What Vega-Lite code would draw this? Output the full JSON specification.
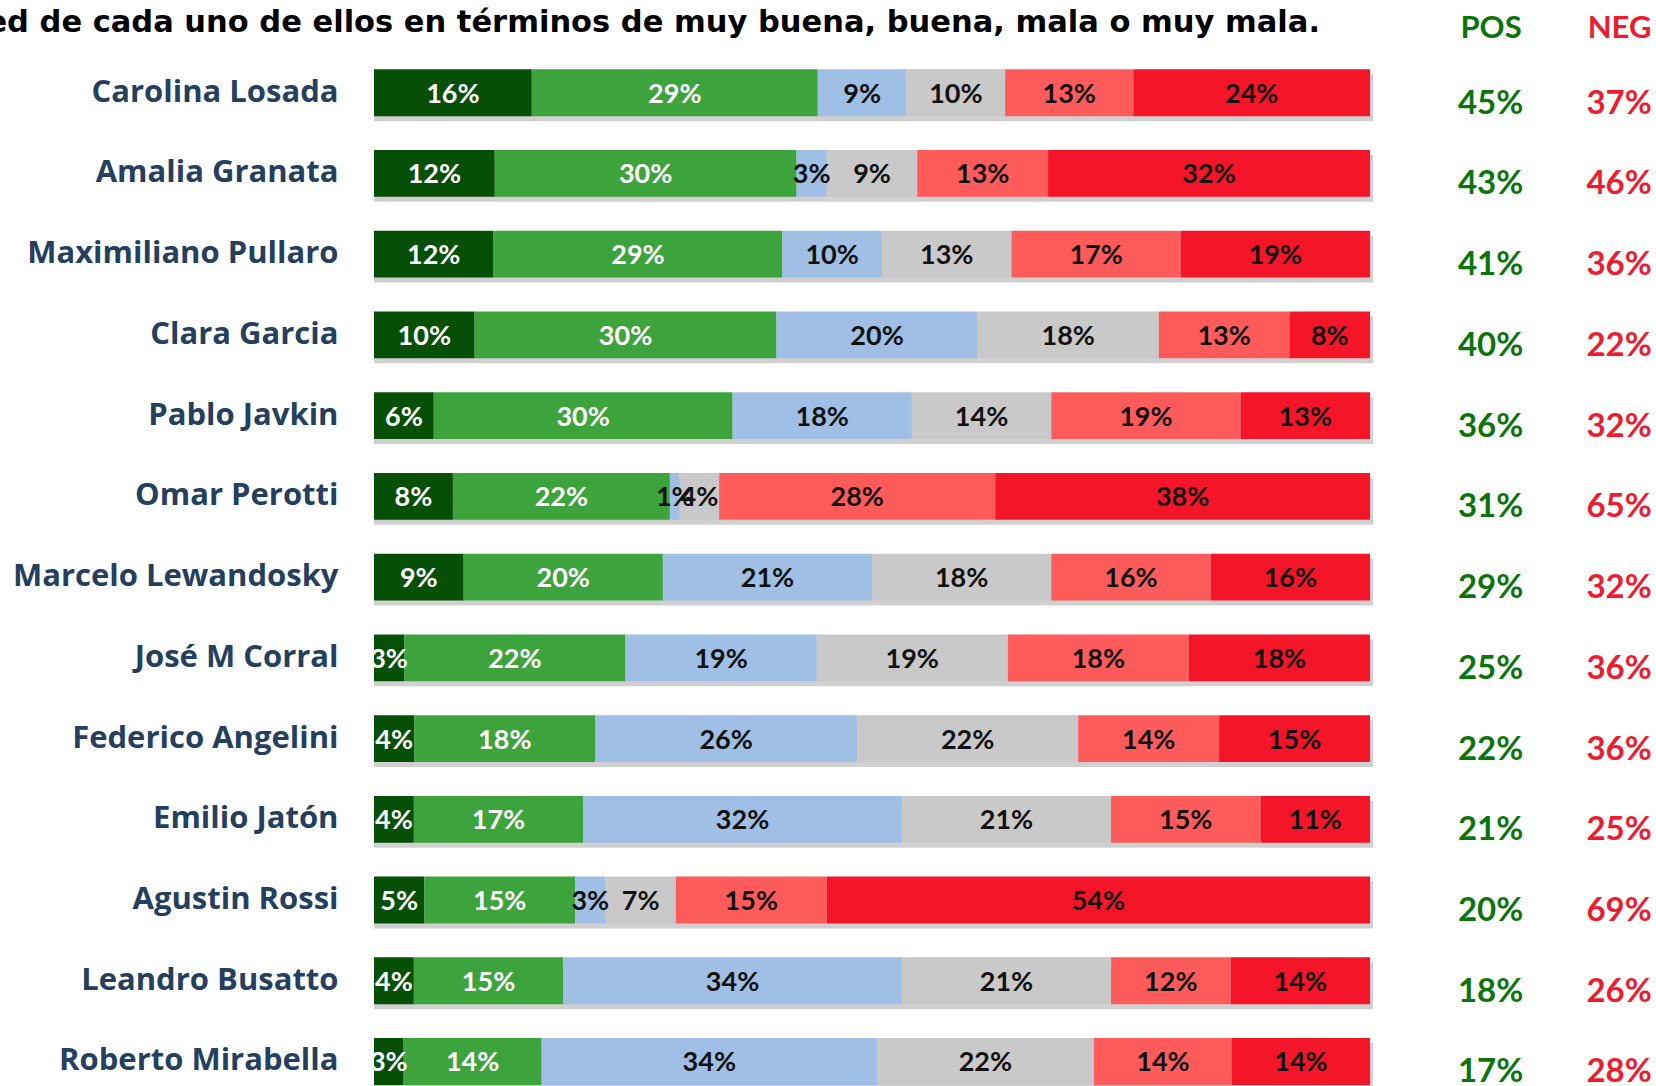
{
  "$schema": "https://vega.github.io/schema/vega-lite/v6.json",
  "width": 1282,
  "height": 1034,
  "autosize": {"type": "none"},
  "padding": {"left": 374, "top": 52, "right": 0, "bottom": 0},
  "background": "white",
  "config": {"view": {"stroke": null}},
  "title": {
    "text": "ed de cada uno de ellos en términos de muy buena, buena, mala o muy mala.",
    "anchor": "end",
    "frame": "group",
    "dx": -336,
    "dy": 54,
    "offset": 4,
    "font": "DejaVu Sans",
    "fontSize": 30.5,
    "fontWeight": "bold",
    "color": "#000000",
    "baseline": "alphabetic"
  },
  "datasets": {
    "seg": [
      {"name": "Carolina Losada", "cat": "Muy buena", "k": 1, "pct": 0.16},
      {"name": "Carolina Losada", "cat": "Buena", "k": 2, "pct": 0.29},
      {"name": "Carolina Losada", "cat": "Regular", "k": 3, "pct": 0.09},
      {"name": "Carolina Losada", "cat": "Ns/Nc", "k": 4, "pct": 0.10},
      {"name": "Carolina Losada", "cat": "Mala", "k": 5, "pct": 0.13},
      {"name": "Carolina Losada", "cat": "Muy mala", "k": 6, "pct": 0.24},
      {"name": "Amalia Granata", "cat": "Muy buena", "k": 1, "pct": 0.12},
      {"name": "Amalia Granata", "cat": "Buena", "k": 2, "pct": 0.30},
      {"name": "Amalia Granata", "cat": "Regular", "k": 3, "pct": 0.03},
      {"name": "Amalia Granata", "cat": "Ns/Nc", "k": 4, "pct": 0.09},
      {"name": "Amalia Granata", "cat": "Mala", "k": 5, "pct": 0.13},
      {"name": "Amalia Granata", "cat": "Muy mala", "k": 6, "pct": 0.32},
      {"name": "Maximiliano Pullaro", "cat": "Muy buena", "k": 1, "pct": 0.12},
      {"name": "Maximiliano Pullaro", "cat": "Buena", "k": 2, "pct": 0.29},
      {"name": "Maximiliano Pullaro", "cat": "Regular", "k": 3, "pct": 0.10},
      {"name": "Maximiliano Pullaro", "cat": "Ns/Nc", "k": 4, "pct": 0.13},
      {"name": "Maximiliano Pullaro", "cat": "Mala", "k": 5, "pct": 0.17},
      {"name": "Maximiliano Pullaro", "cat": "Muy mala", "k": 6, "pct": 0.19},
      {"name": "Clara Garcia", "cat": "Muy buena", "k": 1, "pct": 0.10},
      {"name": "Clara Garcia", "cat": "Buena", "k": 2, "pct": 0.30},
      {"name": "Clara Garcia", "cat": "Regular", "k": 3, "pct": 0.20},
      {"name": "Clara Garcia", "cat": "Ns/Nc", "k": 4, "pct": 0.18},
      {"name": "Clara Garcia", "cat": "Mala", "k": 5, "pct": 0.13},
      {"name": "Clara Garcia", "cat": "Muy mala", "k": 6, "pct": 0.08},
      {"name": "Pablo Javkin", "cat": "Muy buena", "k": 1, "pct": 0.06},
      {"name": "Pablo Javkin", "cat": "Buena", "k": 2, "pct": 0.30},
      {"name": "Pablo Javkin", "cat": "Regular", "k": 3, "pct": 0.18},
      {"name": "Pablo Javkin", "cat": "Ns/Nc", "k": 4, "pct": 0.14},
      {"name": "Pablo Javkin", "cat": "Mala", "k": 5, "pct": 0.19},
      {"name": "Pablo Javkin", "cat": "Muy mala", "k": 6, "pct": 0.13},
      {"name": "Omar Perotti", "cat": "Muy buena", "k": 1, "pct": 0.08},
      {"name": "Omar Perotti", "cat": "Buena", "k": 2, "pct": 0.22},
      {"name": "Omar Perotti", "cat": "Regular", "k": 3, "pct": 0.01},
      {"name": "Omar Perotti", "cat": "Ns/Nc", "k": 4, "pct": 0.04},
      {"name": "Omar Perotti", "cat": "Mala", "k": 5, "pct": 0.28},
      {"name": "Omar Perotti", "cat": "Muy mala", "k": 6, "pct": 0.38},
      {"name": "Marcelo Lewandosky", "cat": "Muy buena", "k": 1, "pct": 0.09},
      {"name": "Marcelo Lewandosky", "cat": "Buena", "k": 2, "pct": 0.20},
      {"name": "Marcelo Lewandosky", "cat": "Regular", "k": 3, "pct": 0.21},
      {"name": "Marcelo Lewandosky", "cat": "Ns/Nc", "k": 4, "pct": 0.18},
      {"name": "Marcelo Lewandosky", "cat": "Mala", "k": 5, "pct": 0.16},
      {"name": "Marcelo Lewandosky", "cat": "Muy mala", "k": 6, "pct": 0.16},
      {"name": "José M Corral", "cat": "Muy buena", "k": 1, "pct": 0.03},
      {"name": "José M Corral", "cat": "Buena", "k": 2, "pct": 0.22},
      {"name": "José M Corral", "cat": "Regular", "k": 3, "pct": 0.19},
      {"name": "José M Corral", "cat": "Ns/Nc", "k": 4, "pct": 0.19},
      {"name": "José M Corral", "cat": "Mala", "k": 5, "pct": 0.18},
      {"name": "José M Corral", "cat": "Muy mala", "k": 6, "pct": 0.18},
      {"name": "Federico Angelini", "cat": "Muy buena", "k": 1, "pct": 0.04},
      {"name": "Federico Angelini", "cat": "Buena", "k": 2, "pct": 0.18},
      {"name": "Federico Angelini", "cat": "Regular", "k": 3, "pct": 0.26},
      {"name": "Federico Angelini", "cat": "Ns/Nc", "k": 4, "pct": 0.22},
      {"name": "Federico Angelini", "cat": "Mala", "k": 5, "pct": 0.14},
      {"name": "Federico Angelini", "cat": "Muy mala", "k": 6, "pct": 0.15},
      {"name": "Emilio Jatón", "cat": "Muy buena", "k": 1, "pct": 0.04},
      {"name": "Emilio Jatón", "cat": "Buena", "k": 2, "pct": 0.17},
      {"name": "Emilio Jatón", "cat": "Regular", "k": 3, "pct": 0.32},
      {"name": "Emilio Jatón", "cat": "Ns/Nc", "k": 4, "pct": 0.21},
      {"name": "Emilio Jatón", "cat": "Mala", "k": 5, "pct": 0.15},
      {"name": "Emilio Jatón", "cat": "Muy mala", "k": 6, "pct": 0.11},
      {"name": "Agustin Rossi", "cat": "Muy buena", "k": 1, "pct": 0.05},
      {"name": "Agustin Rossi", "cat": "Buena", "k": 2, "pct": 0.15},
      {"name": "Agustin Rossi", "cat": "Regular", "k": 3, "pct": 0.03},
      {"name": "Agustin Rossi", "cat": "Ns/Nc", "k": 4, "pct": 0.07},
      {"name": "Agustin Rossi", "cat": "Mala", "k": 5, "pct": 0.15},
      {"name": "Agustin Rossi", "cat": "Muy mala", "k": 6, "pct": 0.54},
      {"name": "Leandro Busatto", "cat": "Muy buena", "k": 1, "pct": 0.04},
      {"name": "Leandro Busatto", "cat": "Buena", "k": 2, "pct": 0.15},
      {"name": "Leandro Busatto", "cat": "Regular", "k": 3, "pct": 0.34},
      {"name": "Leandro Busatto", "cat": "Ns/Nc", "k": 4, "pct": 0.21},
      {"name": "Leandro Busatto", "cat": "Mala", "k": 5, "pct": 0.12},
      {"name": "Leandro Busatto", "cat": "Muy mala", "k": 6, "pct": 0.14},
      {"name": "Roberto Mirabella", "cat": "Muy buena", "k": 1, "pct": 0.03},
      {"name": "Roberto Mirabella", "cat": "Buena", "k": 2, "pct": 0.14},
      {"name": "Roberto Mirabella", "cat": "Regular", "k": 3, "pct": 0.34},
      {"name": "Roberto Mirabella", "cat": "Ns/Nc", "k": 4, "pct": 0.22},
      {"name": "Roberto Mirabella", "cat": "Mala", "k": 5, "pct": 0.14},
      {"name": "Roberto Mirabella", "cat": "Muy mala", "k": 6, "pct": 0.14}
    ],
    "tot": [
      {"name": "Carolina Losada", "pos": 0.45, "neg": 0.37},
      {"name": "Amalia Granata", "pos": 0.43, "neg": 0.46},
      {"name": "Maximiliano Pullaro", "pos": 0.41, "neg": 0.36},
      {"name": "Clara Garcia", "pos": 0.40, "neg": 0.22},
      {"name": "Pablo Javkin", "pos": 0.36, "neg": 0.32},
      {"name": "Omar Perotti", "pos": 0.31, "neg": 0.65},
      {"name": "Marcelo Lewandosky", "pos": 0.29, "neg": 0.32},
      {"name": "José M Corral", "pos": 0.25, "neg": 0.36},
      {"name": "Federico Angelini", "pos": 0.22, "neg": 0.36},
      {"name": "Emilio Jatón", "pos": 0.21, "neg": 0.25},
      {"name": "Agustin Rossi", "pos": 0.20, "neg": 0.69},
      {"name": "Leandro Busatto", "pos": 0.18, "neg": 0.26},
      {"name": "Roberto Mirabella", "pos": 0.17, "neg": 0.28}
    ]
  },
  "encoding": {
    "y": {
      "field": "name",
      "type": "nominal",
      "title": null,
      "scale": {
        "domain": ["Carolina Losada", "Amalia Granata", "Maximiliano Pullaro", "Clara Garcia", "Pablo Javkin", "Omar Perotti", "Marcelo Lewandosky", "José M Corral", "Federico Angelini", "Emilio Jatón", "Agustin Rossi", "Leandro Busatto", "Roberto Mirabella"],
        "paddingInner": 0.42,
        "paddingOuter": 0.114,
        "align": 0.94
      },
      "axis": {
        "title": null,
        "domain": false,
        "ticks": false,
        "labelPadding": 36,
        "labelFont": "Open Sans",
        "labelFontWeight": "bold",
        "labelFontSize": 31,
        "labelColor": "#253F5E",
        "labelLimit": 500
      }
    }
  },
  "layer": [
    {
      "data": {"name": "tot"},
      "mark": {"type": "bar", "yOffset": 5, "x2Offset": 3, "color": "#bcbcbc", "opacity": 0.7},
      "encoding": {
        "x": {
          "datum": 0,
          "type": "quantitative",
          "title": null,
          "scale": {"domain": [0, 1.2871], "nice": false, "zero": false},
          "axis": {
            "orient": "top",
            "title": null,
            "values": [1.121, 1.25],
            "labelExpr": "datum.value < 1.2 ? 'POS' : 'NEG'",
            "labelColor": {"condition": {"test": "datum.value < 1.2", "value": "#0B740B"}, "value": "#EE1C2E"},
            "labelFont": "Lato",
            "labelFontWeight": "bold",
            "labelFontSize": 31,
            "labelBaseline": "middle",
            "labelPadding": 24,
            "ticks": false,
            "tickSize": 0,
            "domain": false,
            "grid": false,
            "labelFlush": false,
            "labelOverlap": false,
            "labelBound": false
          }
        },
        "x2": {"datum": 1}
      }
    },
    {
      "data": {"name": "seg"},
      "mark": {"type": "bar"},
      "encoding": {
        "x": {"field": "pct", "type": "quantitative", "stack": "normalize", "title": null},
        "color": {
          "field": "cat",
          "type": "nominal",
          "legend": null,
          "scale": {
            "domain": ["Muy buena", "Buena", "Regular", "Ns/Nc", "Mala", "Muy mala"],
            "range": ["#064F06", "#3DA43D", "#9FBFE5", "#C9C9C9", "#FF5B5B", "#F41528"]
          }
        },
        "order": {"field": "k", "type": "quantitative"}
      }
    },
    {
      "data": {"name": "seg"},
      "mark": {"type": "text", "font": "Lato", "fontWeight": "bold", "fontSize": 27, "baseline": "middle", "dy": 2},
      "encoding": {
        "x": {"field": "pct", "type": "quantitative", "stack": "normalize", "bandPosition": 0.5, "title": null},
        "order": {"field": "k", "type": "quantitative"},
        "text": {"field": "pct", "type": "quantitative", "format": ".0%"},
        "color": {"condition": {"test": "datum.k <= 2", "value": "#FFFFFF"}, "value": "#111111"}
      }
    },
    {
      "data": {"name": "tot"},
      "mark": {"type": "text", "font": "Lato", "fontWeight": "bold", "fontSize": 33, "baseline": "middle", "dy": 11, "color": "#0B740B"},
      "encoding": {
        "x": {"datum": 1.121, "type": "quantitative"},
        "text": {"field": "pos", "type": "quantitative", "format": ".0%"}
      }
    },
    {
      "data": {"name": "tot"},
      "mark": {"type": "text", "font": "Lato", "fontWeight": "bold", "fontSize": 33, "baseline": "middle", "dy": 11, "color": "#EE1C2E"},
      "encoding": {
        "x": {"datum": 1.25, "type": "quantitative"},
        "text": {"field": "neg", "type": "quantitative", "format": ".0%"}
      }
    }
  ]
}
